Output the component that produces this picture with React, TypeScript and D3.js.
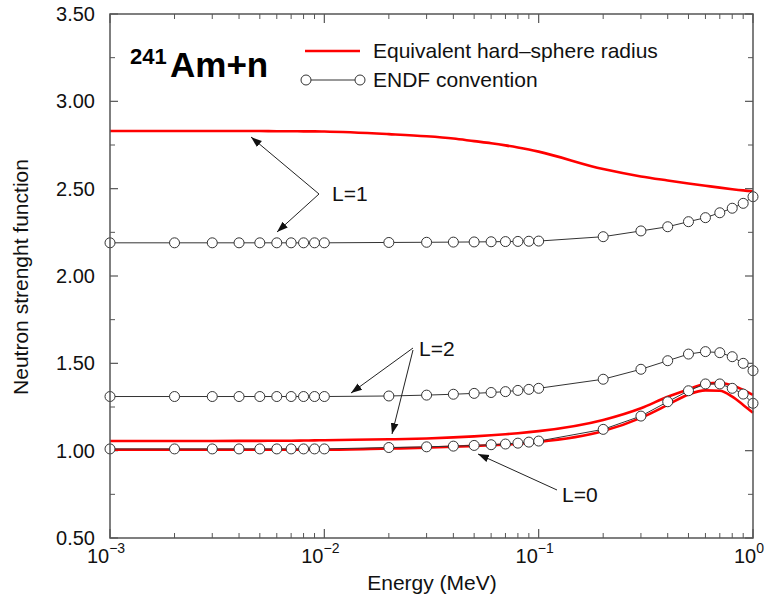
import React from "react";
import * as d3 from "d3";

const energies = [
  0.001, 0.002, 0.003, 0.004, 0.005, 0.006, 0.007, 0.008, 0.009,
  0.01, 0.02, 0.03, 0.04, 0.05, 0.06, 0.07, 0.08, 0.09,
  0.1, 0.2, 0.3, 0.4, 0.5, 0.6, 0.7, 0.8, 0.9, 1.0,
];

const endfL1 = [
  2.19, 2.19, 2.19, 2.19, 2.19, 2.19, 2.19, 2.19, 2.19,
  2.19, 2.192, 2.193, 2.194, 2.195, 2.196, 2.197, 2.198, 2.199,
  2.2, 2.225, 2.258, 2.282, 2.311, 2.334, 2.362, 2.388, 2.416, 2.454,
];
const endfL2 = [
  1.31, 1.31, 1.31, 1.31, 1.31, 1.31, 1.31, 1.31, 1.31,
  1.31, 1.313, 1.318, 1.323, 1.328, 1.333, 1.338, 1.345, 1.351,
  1.357, 1.409, 1.466, 1.515, 1.553, 1.567, 1.561, 1.538, 1.5, 1.458,
];
const endfL0 = [
  1.01, 1.01, 1.01, 1.01, 1.01, 1.01, 1.01, 1.01, 1.01,
  1.01, 1.018, 1.022, 1.026, 1.03, 1.034, 1.038, 1.043, 1.049,
  1.055, 1.122, 1.198, 1.28, 1.343, 1.382, 1.382, 1.357, 1.324, 1.271,
];

const hsL1 = [
  2.83, 2.83, 2.83, 2.83, 2.83, 2.829, 2.829, 2.828, 2.828,
  2.827, 2.812, 2.8, 2.787, 2.772, 2.76, 2.748, 2.736, 2.724,
  2.712, 2.612, 2.57, 2.547, 2.53, 2.517, 2.506, 2.497, 2.49, 2.485,
];
const hsL2 = [
  1.055, 1.055, 1.055, 1.056, 1.056, 1.057, 1.057, 1.058, 1.059,
  1.06, 1.065, 1.07, 1.076, 1.082, 1.088, 1.094, 1.1, 1.106,
  1.112, 1.176, 1.243, 1.309, 1.351, 1.383, 1.388, 1.373, 1.348, 1.319,
];
const hsL0 = [
  1.005, 1.005, 1.005, 1.005, 1.005, 1.005, 1.005, 1.005, 1.005,
  1.005, 1.012, 1.017, 1.022, 1.027, 1.031, 1.035, 1.04, 1.045,
  1.05, 1.112, 1.188, 1.262, 1.322, 1.345, 1.343, 1.309, 1.262, 1.217,
];

const xDomain = [0.001, 1];
const yDomain = [0.5, 3.5];
const xMajorExps = [-3, -2, -1, 0];
const yMajorTicks = [0.5, 1.0, 1.5, 2.0, 2.5, 3.0, 3.5];
const yMinorTicks = [0.75, 1.25, 1.75, 2.25, 2.75, 3.25];
const minorMultipliers = [2, 3, 4, 5, 6, 7, 8, 9];

const titleMass = "241";
const titleRest = "Am+n";
const legendHS = "Equivalent hard\u2013sphere radius";
const legendENDF = "ENDF convention";
const xTitle = "Energy (MeV)";
const yTitle = "Neutron strenght function";

const FONT = "'Liberation Sans', Arial, Helvetica, sans-serif";

export default function App() {
  const left = 110, right = 753, top = 14, bottom = 538;
  const x = d3.scaleLog().domain(xDomain).range([left, right]);
  const y = d3.scaleLinear().domain(yDomain).range([bottom, top]);

  const smooth = d3
    .line<number>()
    .x((_, i) => x(energies[i]))
    .y((d) => y(d))
    .curve(d3.curveMonotoneX);
  const straight = d3
    .line<number>()
    .x((_, i) => x(energies[i]))
    .y((d) => y(d));

  const xMinor: number[] = [];
  xMajorExps.slice(0, -1).forEach((e) =>
    minorMultipliers.forEach((m) => xMinor.push(m * Math.pow(10, e)))
  );

  const axisColor = "#555";
  const lineColor = "#333";

  const arrow = (x1: number, y1: number, x2: number, y2: number, key: string) => (
    <line key={key} x1={x1} y1={y1} x2={x2} y2={y2} stroke="#222" strokeWidth={1} markerEnd="url(#arrowHead)" />
  );

  return (
    <svg
      width={767}
      height={600}
      style={{ position: "absolute", left: 0, top: 0, background: "#fff" }}
      fontFamily={FONT}
    >
      <defs>
        <marker id="arrowHead" viewBox="0 0 10 10" refX="10" refY="5" markerWidth="11" markerHeight="11" markerUnits="userSpaceOnUse" orient="auto">
          <path d="M0,1.5 L10,5 L0,8.5 z" fill="#111" />
        </marker>
      </defs>
      <rect x={0} y={0} width={767} height={600} fill="#fff" />

      {/* ticks */}
      {xMajorExps.map((e) => {
        const xv = x(Math.pow(10, e));
        return (
          <g key={"xm" + e}>
            <line x1={xv} x2={xv} y1={bottom} y2={bottom - 9} stroke={axisColor} strokeWidth={1.2} />
            <line x1={xv} x2={xv} y1={top} y2={top + 9} stroke={axisColor} strokeWidth={1.2} />
            <text x={xv - 4} y={563} textAnchor="middle" fontSize={20} fill="#111">
              10
              <tspan fontSize={14} dy={-10}>{e === 0 ? "0" : "\u2212" + Math.abs(e)}</tspan>
            </text>
          </g>
        );
      })}
      {xMinor.map((v, i) => {
        const xv = x(v);
        return (
          <g key={"xn" + i}>
            <line x1={xv} x2={xv} y1={bottom} y2={bottom - 5} stroke={axisColor} strokeWidth={1} />
            <line x1={xv} x2={xv} y1={top} y2={top + 5} stroke={axisColor} strokeWidth={1} />
          </g>
        );
      })}
      {yMajorTicks.map((v) => {
        const yv = y(v);
        return (
          <g key={"ym" + v}>
            <line x1={left} x2={left + 8} y1={yv} y2={yv} stroke={axisColor} strokeWidth={1.2} />
            <line x1={right} x2={right - 8} y1={yv} y2={yv} stroke={axisColor} strokeWidth={1.2} />
            <text x={95} y={yv + 7} textAnchor="end" fontSize={20} fill="#111">
              {v.toFixed(2)}
            </text>
          </g>
        );
      })}
      {yMinorTicks.map((v) => {
        const yv = y(v);
        return (
          <g key={"yn" + v}>
            <line x1={left} x2={left + 5} y1={yv} y2={yv} stroke={axisColor} strokeWidth={1} />
            <line x1={right} x2={right - 5} y1={yv} y2={yv} stroke={axisColor} strokeWidth={1} />
          </g>
        );
      })}

      {/* hard-sphere curves */}
      {[hsL1, hsL2, hsL0].map((s, i) => (
        <path key={"hs" + i} d={smooth(s) || ""} fill="none" stroke="#ff0000" strokeWidth={2.6} />
      ))}

      {/* ENDF curves */}
      {[endfL1, endfL2, endfL0].map((s, i) => (
        <g key={"en" + i}>
          <path d={straight(s) || ""} fill="none" stroke={lineColor} strokeWidth={1} />
          {s.map((v, j) => (
            <circle key={j} cx={x(energies[j])} cy={y(v)} r={5} fill="#fff" stroke={lineColor} strokeWidth={1} />
          ))}
        </g>
      ))}

      {/* frame */}
      <rect x={left} y={top} width={right - left} height={bottom - top} fill="none" stroke={axisColor} strokeWidth={1.5} />

      {/* title */}
      <text x={130} y={64} fontSize={22} fontWeight="bold" fill="#000">{titleMass}</text>
      <text x={170} y={77} fontSize={35} fontWeight="bold" fill="#000">{titleRest}</text>

      {/* legend */}
      <line x1={305} x2={360} y1={51} y2={51} stroke="#ff0000" strokeWidth={2.6} />
      <text x={373} y={58} fontSize={21} fill="#111">{legendHS}</text>
      <line x1={306} x2={360} y1={80} y2={80} stroke={lineColor} strokeWidth={1} />
      <circle cx={306} cy={80} r={5} fill="#fff" stroke={lineColor} strokeWidth={1} />
      <circle cx={360} cy={80} r={5} fill="#fff" stroke={lineColor} strokeWidth={1} />
      <text x={373} y={87} fontSize={21} fill="#111">{legendENDF}</text>

      {/* annotations */}
      {arrow(319, 194, 251, 137, "a1")}
      {arrow(319, 194, 277, 232, "a2")}
      <text x={332} y={201} fontSize={21} fill="#111">L=1</text>
      {arrow(413, 348, 351, 393, "a3")}
      {arrow(413, 350, 392, 434, "a4")}
      <text x={419} y={356} fontSize={21} fill="#111">L=2</text>
      {arrow(557, 490, 478, 454, "a5")}
      <text x={562} y={502} fontSize={21} fill="#111">L=0</text>

      {/* axis titles */}
      <text x={432} y={590} textAnchor="middle" fontSize={21} fill="#111">{xTitle}</text>
      <text transform="translate(28,277) rotate(-90)" textAnchor="middle" fontSize={21} fill="#111">{yTitle}</text>
    </svg>
  );
}
